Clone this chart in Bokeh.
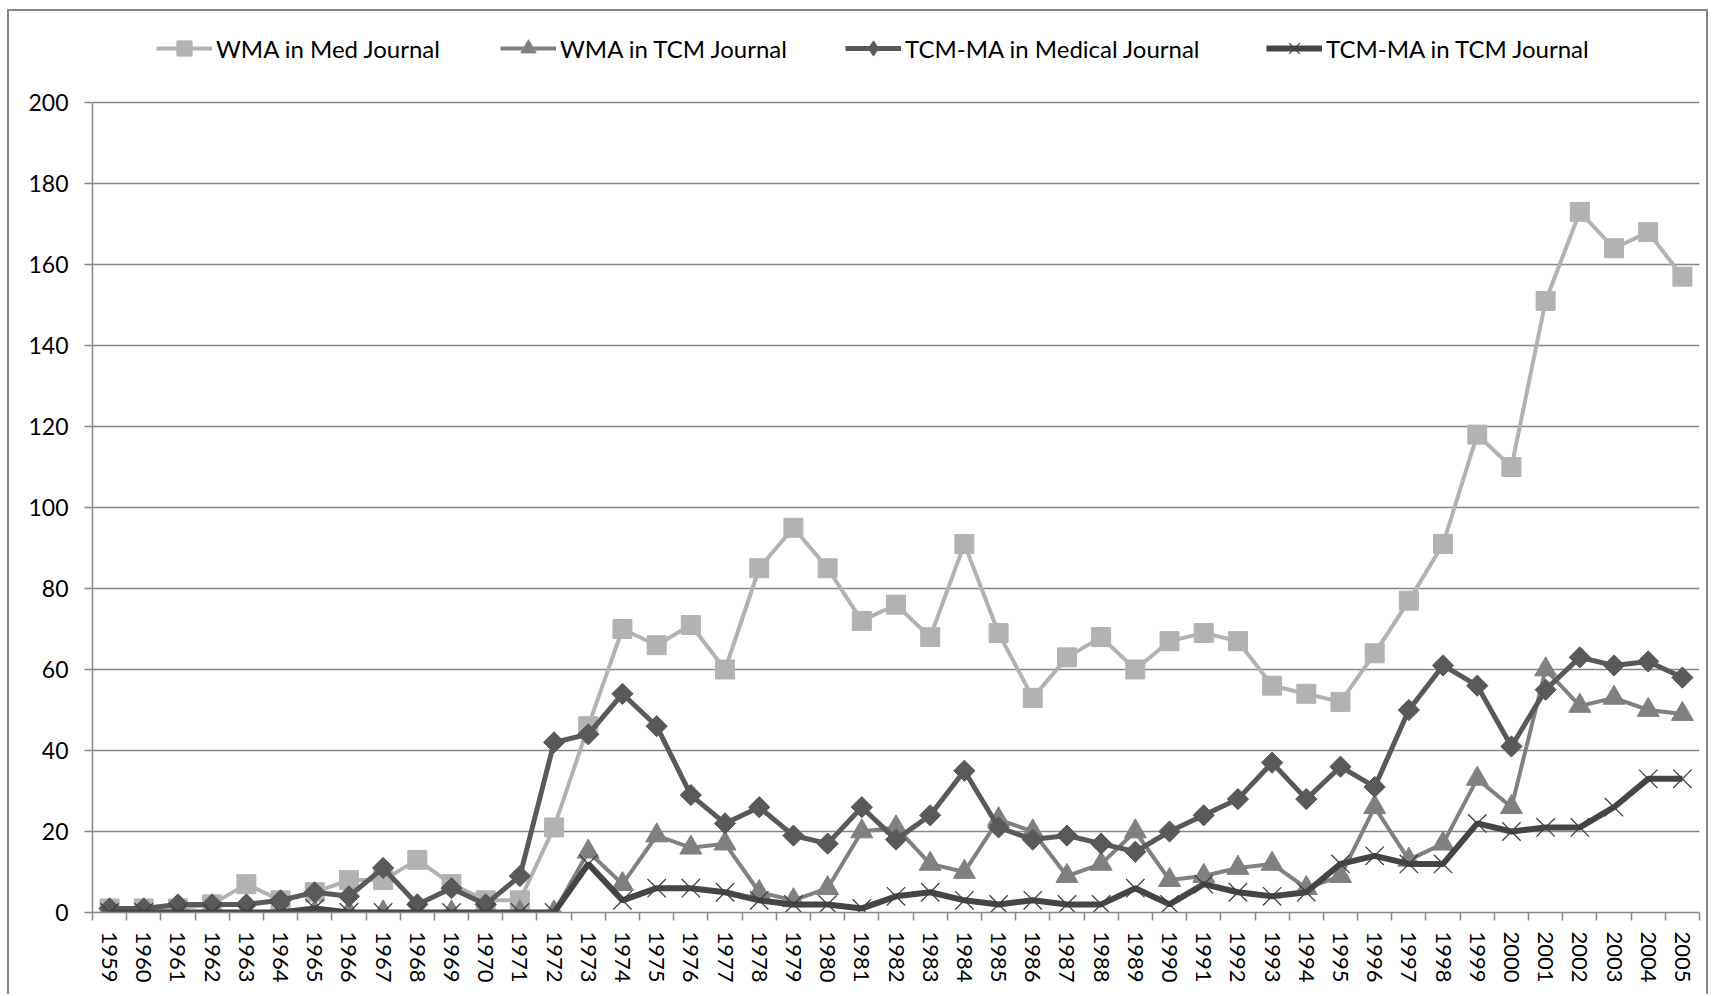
import math
from bokeh.plotting import figure
from bokeh.models import Range1d, FixedTicker, Legend, LegendItem
from bokeh.embed import file_html
from bokeh.resources import INLINE

years = list(range(1959, 2006))

wma_med = [1, 1, 1, 2, 7, 3, 5, 8, 8, 13, 7, 3, 3, 21, 46, 70, 66, 71, 60, 85,
           95, 85, 72, 76, 68, 91, 69, 53, 63, 68, 60, 67, 69, 67, 56, 54, 52, 64,
           77, 91, 118, 110, 151, 173, 164, 168, 157]
wma_tcm = [0, 0, 0, 0, 0, 0, 0, 0, 0, 0, 0, 0, 0, 0, 15, 7, 19, 16, 17, 5,
           3, 6, 20, 21, 12, 10, 23, 20, 9, 12, 20, 8, 9, 11, 12, 6, 9, 26,
           13, 17, 33, 26, 60, 51, 53, 50, 49]
tcm_med = [1, 1, 2, 2, 2, 3, 5, 4, 11, 2, 6, 2, 9, 42, 44, 54, 46, 29, 22, 26,
           19, 17, 26, 18, 24, 35, 21, 18, 19, 17, 15, 20, 24, 28, 37, 28, 36, 31,
           50, 61, 56, 41, 55, 63, 61, 62, 58]
tcm_tcm = [0, 0, 0, 0, 0, 0, 1, 0, 0, 0, 0, 0, 0, 0, 12, 3, 6, 6, 5, 3,
           2, 2, 1, 4, 5, 3, 2, 3, 2, 2, 6, 2, 7, 5, 4, 5, 12, 14,
           12, 12, 22, 20, 21, 21, 26, 33, 33]

series_names = ["WMA in Med Journal", "WMA in TCM Journal",
                "TCM-MA in Medical Journal", "TCM-MA in TCM Journal"]
y_ticks = list(range(0, 201, 20))

FONT = "Lato"
GRID = "#868686"
C1, C2, C3, C4 = "#b2b2b2", "#808080", "#595959", "#454545"

p = figure(width=1701, height=985, output_backend="svg", toolbar_location=None,
           x_range=Range1d(years[0] - 0.5, years[-1] + 0.5),
           y_range=Range1d(0, 220),
           min_border_left=83, min_border_right=11,
           min_border_top=10, min_border_bottom=84)
p.outline_line_color = None
p.background_fill_color = "white"
p.border_fill_color = "white"
p.margin = (9, 0, 0, 7)
p.styles = {"border-top": "2px solid #868686",
            "border-left": "2px solid #868686",
            "border-right": "2px solid #868686"}

# axes
p.xgrid.grid_line_color = None
p.ygrid.grid_line_color = GRID
p.ygrid.grid_line_width = 1.5
p.yaxis.ticker = FixedTicker(ticks=y_ticks)
p.yaxis.bounds = (0, 200)
p.yaxis.axis_line_color = GRID
p.yaxis.axis_line_width = 1.5
p.yaxis.major_tick_out = 8
p.yaxis.major_tick_in = 0
p.yaxis.major_tick_line_color = GRID
p.yaxis.major_tick_line_width = 1.5
p.yaxis.minor_tick_line_color = None
p.yaxis.major_label_text_font = FONT
p.yaxis.major_label_text_font_size = "23px"
p.yaxis.major_label_text_color = "black"
p.yaxis.major_label_standoff = 16

bounds = [y - 0.5 for y in years] + [years[-1] + 0.5]
p.xaxis.ticker = FixedTicker(ticks=years, minor_ticks=bounds)
p.xaxis.axis_line_color = GRID
p.xaxis.axis_line_width = 1.5
p.xaxis.major_tick_out = 0
p.xaxis.major_tick_in = 0
p.xaxis.major_tick_line_color = None
p.xaxis.minor_tick_out = 8
p.xaxis.minor_tick_in = 0
p.xaxis.minor_tick_line_color = GRID
p.xaxis.minor_tick_line_width = 1.5
p.xaxis.major_label_orientation = "vertical"
p.xaxis.major_label_text_font = FONT
p.xaxis.major_label_text_font_size = "22px"
p.xaxis.major_label_text_color = "black"
p.xaxis.major_label_standoff = 11

# WMA in Med Journal
l1 = p.line(years, wma_med, line_color=C1, line_width=4)
m1 = p.scatter(years, wma_med, marker="square", size=19, fill_color=C1,
               line_color=C1)
# WMA in TCM Journal
l2 = p.line(years, wma_tcm, line_color=C2, line_width=4)
m2 = p.scatter(years, wma_tcm, marker="triangle", size=22, fill_color=C2,
               line_color=C2)
# TCM-MA in Medical Journal
l3 = p.line(years, tcm_med, line_color=C3, line_width=5)
m3 = p.scatter(years, tcm_med, marker="square", angle=math.pi / 4, size=15,
               fill_color=C3, line_color=C3)
# legend-only diamond key (the legend draws markers without rotation);
# its single point is NaN so nothing shows in the plot area
k3 = p.scatter(x=[float("nan")], y=[float("nan")], marker="diamond",
               fill_color=C3, line_color=C3)
# TCM-MA in TCM Journal
l4 = p.line(years, tcm_tcm, line_color=C4, line_width=6)
m4 = p.scatter(years, tcm_tcm, marker="x", size=26, line_color="#404040",
               line_width=1.3)

renderers = [[l1, m1], [l2, m2], [l3, k3], [l4, m4]]

# legends, one per item, in the band above the 200 gridline
legend_x = [64, 408, 753, 1174]
for name, rs, lx in zip(series_names, renderers, legend_x):
    lg = Legend(items=[LegendItem(label=name, renderers=rs)],
                location=(lx, 845), orientation="horizontal",
                glyph_width=56, glyph_height=38, label_height=24,
                label_standoff=4, padding=0, margin=0, spacing=0,
                border_line_color=None, background_fill_alpha=0,
                label_text_font=FONT, label_text_font_size="24px",
                label_text_color="black")
    p.add_layout(lg, "center")

open("out.html", "w").write(file_html(p, INLINE))
